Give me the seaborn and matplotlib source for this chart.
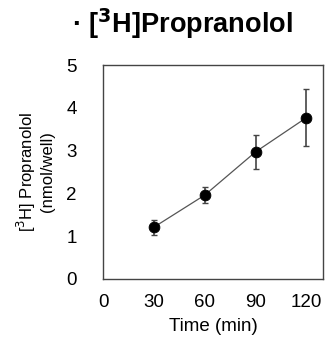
import matplotlib
matplotlib.use("Agg")
import matplotlib.pyplot as plt
import seaborn as sns
import pandas as pd

time_min = [30, 60, 90, 120]
uptake = [1.21, 1.96, 2.97, 3.77]
uptake_err = [0.18, 0.19, 0.40, 0.67]
x_ticks = [0, 30, 60, 90, 120]
y_ticks = [0, 1, 2, 3, 4, 5]

df = pd.DataFrame({"time": time_min, "uptake": uptake, "err": uptake_err})

sns.set_style("white")
plt.rcParams["font.family"] = ["Liberation Sans", "DejaVu Sans"]
plt.rcParams["text.color"] = "black"
plt.rcParams["axes.labelcolor"] = "black"

fig = plt.figure(figsize=(3.25, 3.44), dpi=100)
ax = fig.add_axes([0.317, 0.189, 0.678, 0.622])

sns.lineplot(data=df, x="time", y="uptake", ax=ax, color="#555555", linewidth=0.9)
ax.errorbar(df["time"], df["uptake"], yerr=df["err"], fmt="none",
            ecolor="#444444", elinewidth=1.2, capsize=2, capthick=1)
sns.scatterplot(data=df, x="time", y="uptake", ax=ax, color="black", s=60,
                edgecolor="black", zorder=5)

ax.set_xlim(0, 130)
ax.set_ylim(0, 5)
ax.set_xticks(x_ticks)
ax.set_yticks(y_ticks)
ax.tick_params(direction="in", length=3, width=0.6, colors="#555555",
               labelcolor="black", labelsize=13.5)
ax.tick_params(axis="y", pad=19)
ax.tick_params(axis="x", pad=11)
for s in ax.spines.values():
    s.set_color("#444444")
    s.set_linewidth(1.0)

ax.set_xlabel("Time (min)", fontsize=13.5, labelpad=5)
ax.set_ylabel("[$^3$H] Propranolol\n(nmol/well)", fontsize=12, labelpad=8)
fig.text(0.56, 0.93, "· [$^\\mathbf{3}$H]Propranolol", fontsize=19.5, fontweight="bold",
         ha="center", va="center")

fig.savefig("out.png", dpi=100)
